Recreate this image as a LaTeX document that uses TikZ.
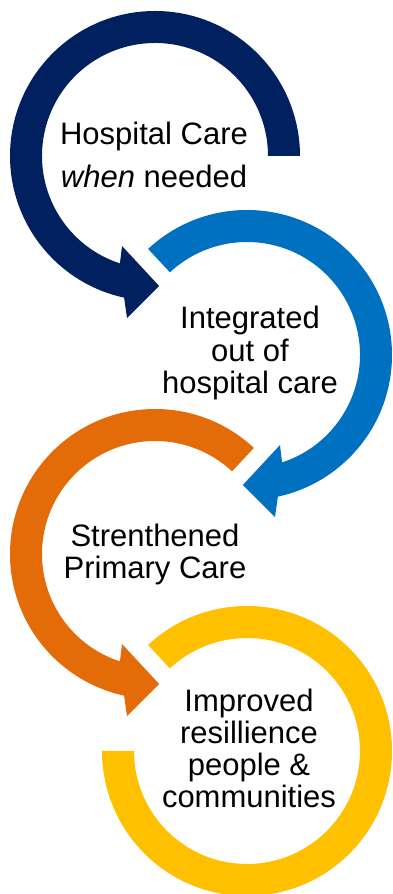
\documentclass[tikz,border=0pt]{standalone}
\usepackage{fontspec}
\setmainfont{Liberation Sans}
\definecolor{navyc}{HTML}{002060}
\definecolor{bluec}{HTML}{0070C0}
\definecolor{orangec}{HTML}{E36C09}
\definecolor{yellowc}{HTML}{FFC000}
\tikzset{
  lbl/.style={font=\fontsize{31}{32.3}\selectfont, align=center, anchor=base, inner sep=0pt, text=black},
}
\begin{document}
\begin{tikzpicture}[x=1pt,y=1pt]
\useasboundingbox (0,0) rectangle (393,894);
% navy ring arrow
\begin{scope}[shift={(155,738)}]
\fill[navyc] (0:145) arc[start angle=0,end angle=257.7,radius=145] -- (260.2:164.4) -- (271.8:130) -- (249.9:95.9) -- (251.9:113) arc[start angle=251.9,end angle=0,radius=113] -- cycle;
\end{scope}
% blue ring arrow (mirror)
\begin{scope}[shift={(247,539)},xscale=-1]
\fill[bluec] (47:145) arc[start angle=47,end angle=257.7,radius=145] -- (260.2:164.4) -- (271.8:130) -- (249.9:95.9) -- (251.9:113) arc[start angle=251.9,end angle=47,radius=113] -- cycle;
\end{scope}
% orange ring arrow
\begin{scope}[shift={(155,340)}]
\fill[orangec] (47:145) arc[start angle=47,end angle=257.7,radius=145] -- (260.2:164.4) -- (271.8:130) -- (249.9:95.9) -- (251.9:113) arc[start angle=251.9,end angle=47,radius=113] -- cycle;
\end{scope}
% yellow ring
\begin{scope}[shift={(247,143)}]
\fill[yellowc] (133:145) arc[start angle=133,end angle=-180,radius=145] -- (180:113) arc[start angle=-180,end angle=133,radius=113] -- cycle;
\end{scope}
\node[lbl] (t1) at (154,706.5) {Hospital Care\\[10.7pt]\textit{when} needed};
\node[lbl] (t2) at (250,500.5) {Integrated\\out of\\hospital care};
\node[lbl] (t3) at (155,315) {Strenthened\\Primary Care};
\node[lbl] (t4) at (249,86) {Improved\\resillience\\people \&\\communities};
\end{tikzpicture}
\end{document}
